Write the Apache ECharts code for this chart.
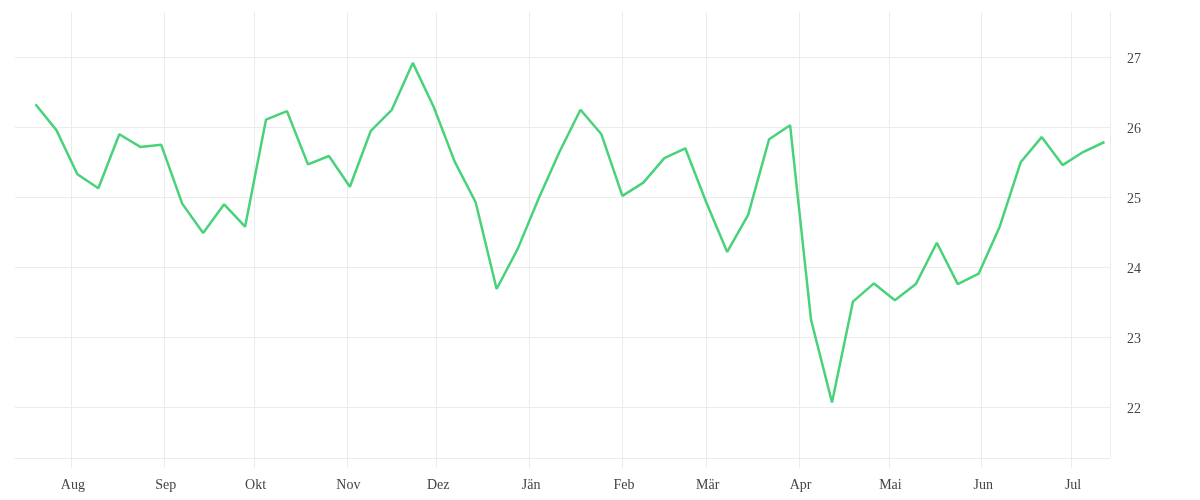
<!DOCTYPE html>
<html>
<head>
<meta charset="utf-8">
<script src="https://cdn.jsdelivr.net/npm/echarts@6/dist/echarts.min.js"></script>
<style>
html,body{margin:0;padding:0;background:#fff;}
#chart{width:1200px;height:500px;}
</style>
</head>
<body>
<div id="chart"></div>
<script>
const dates = [
  '2022-07-20','2022-07-27','2022-08-03','2022-08-10','2022-08-17','2022-08-24','2022-08-31',
  '2022-09-07','2022-09-14','2022-09-21','2022-09-28','2022-10-05','2022-10-12','2022-10-19',
  '2022-10-26','2022-11-02','2022-11-09','2022-11-16','2022-11-23','2022-11-30','2022-12-07',
  '2022-12-14','2022-12-21','2022-12-28','2023-01-04','2023-01-11','2023-01-18','2023-01-25',
  '2023-02-01','2023-02-08','2023-02-15','2023-02-22','2023-03-01','2023-03-08','2023-03-15',
  '2023-03-22','2023-03-29','2023-04-05','2023-04-12','2023-04-19','2023-04-26','2023-05-03',
  '2023-05-10','2023-05-17','2023-05-24','2023-05-31','2023-06-07','2023-06-14','2023-06-21',
  '2023-06-28','2023-07-05','2023-07-12'
];
const values = [
  26.33,25.96,25.33,25.13,25.90,25.72,25.75,
  24.91,24.49,24.90,24.58,26.11,26.23,25.47,
  25.59,25.15,25.95,26.25,26.92,26.29,25.51,
  24.93,23.69,24.26,24.98,25.65,26.25,25.90,
  25.02,25.21,25.56,25.70,24.93,24.22,24.75,
  25.83,26.03,23.25,22.07,23.51,23.77,23.53,
  23.76,24.35,23.76,23.91,24.58,25.50,25.86,
  25.46,25.65,25.79
];
const monthNames = ['Jän','Feb','Mär','Apr','Mai','Jun','Jul','Aug','Sep','Okt','Nov','Dez'];

const seriesData = dates.map((d, i) => [d, values[i]]);
const gridColor = '#ebebeb';
const labelFont = 'Liberation Serif';

const chart = echarts.init(document.getElementById('chart'));
chart.setOption({
  animation: false,
  backgroundColor: '#ffffff',
  grid: { left: 15, right: 90, top: 12, bottom: 42, containLabel: false },
  xAxis: {
    type: 'time',
    min: '2022-07-13 04:00',
    max: '2023-07-13 20:00',
    splitNumber: 12,
    minInterval: 28 * 86400000,
    maxInterval: 31 * 86400000,
    axisLine: { show: true, lineStyle: { color: gridColor, width: 1 } },
    axisTick: { show: true, length: 10, lineStyle: { color: gridColor } },
    splitLine: { show: true, showMinLine: false, lineStyle: { color: gridColor, width: 1 } },
    axisLabel: {
      show: true,
      margin: 20,
      padding: [0, 0, 0, 3],
      color: '#444',
      fontFamily: labelFont,
      fontSize: 14,
      showMinLabel: false,
      showMaxLabel: false,
      formatter: function (v) { return monthNames[new Date(v).getMonth()]; }
    }
  },
  yAxis: {
    type: 'value',
    position: 'right',
    min: 21.276,
    max: 27.647,
    axisLine: { show: false },
    axisTick: { show: false },
    splitLine: { show: true, showMinLine: false, showMaxLine: false, lineStyle: { color: gridColor, width: 1 } },
    axisLabel: {
      margin: 17,
      color: '#444',
      fontFamily: labelFont,
      fontSize: 14,
      showMinLabel: false,
      showMaxLabel: false,
      formatter: '{t|{value}}',
      rich: {
        t: { color: '#444', fontFamily: labelFont, fontSize: 14, padding: [5, 0, 0, 0] }
      }
    }
  },
  series: [{
    type: 'line',
    data: seriesData,
    showSymbol: false,
    symbol: 'none',
    lineStyle: { color: '#48d27a', width: 2.5 },
    itemStyle: { color: '#48d27a' }
  }]
});
</script>
</body>
</html>
